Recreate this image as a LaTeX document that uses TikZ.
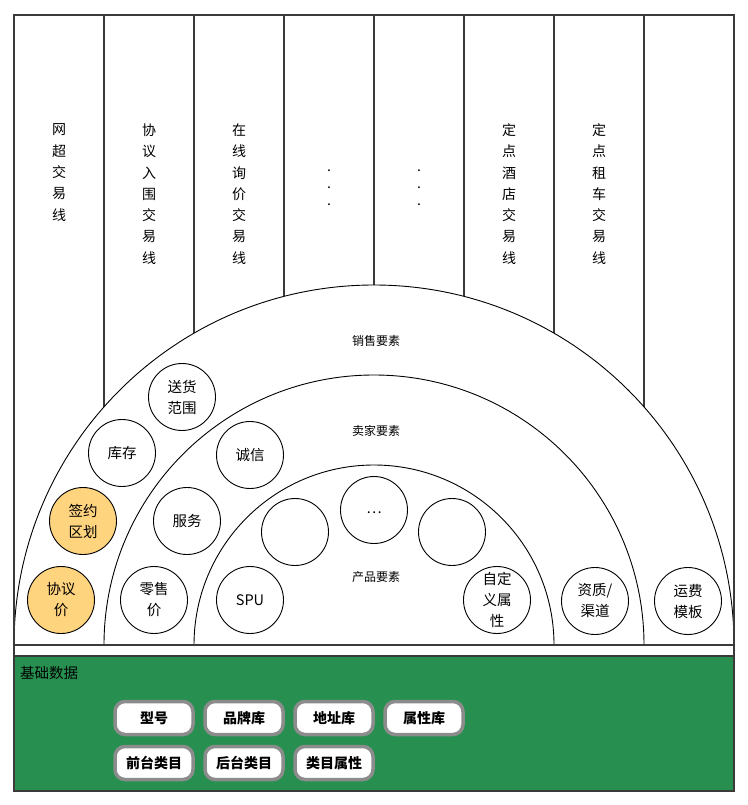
\documentclass[tikz,border=0pt]{standalone}
\usepackage{fontspec}
\setmainfont{Noto Sans CJK SC}
\definecolor{gfill}{HTML}{279050}
\definecolor{ofill}{HTML}{FFD47F}
\definecolor{framec}{HTML}{3A3A3A}
\definecolor{btnborder}{HTML}{8C8C8C}
\begin{document}
\begin{tikzpicture}[x=1pt,y=-1pt,
  elem/.style={circle, draw=black, line width=0.9pt, minimum size=67pt, inner sep=0pt, align=center, font=\fontsize{14.5}{21}\selectfont, fill=white},
  hot/.style={elem, fill=ofill},
  coltext/.style={align=center, font=\fontsize{14}{21.3}\selectfont, inner sep=0pt},
  dots/.style={align=center, font=\fontsize{14}{17}\selectfont, inner sep=0pt},
  ring/.style={font=\fontsize{12}{14}\selectfont, inner sep=0pt},
  btn/.style={draw=btnborder, line width=3.5pt, fill=white, rounded corners=10pt, minimum width=78pt, minimum height=33pt, inner sep=0pt, font=\fontsize{14}{16}\selectfont\bfseries},
  framel/.style={draw=framec, line width=1.2pt}]
\useasboundingbox (0,0) rectangle (747,805);
\fill[white] (0,0) rectangle (747,805);
% column separators
\foreach \x in {104,194,284,374,464,554,644} \draw[framel] (\x,15) -- (\x,645);
% rings
\filldraw[fill=white, draw=black, line width=0.9pt] (14,645) arc[start angle=180, end angle=360, radius=360] -- cycle;
\draw[black, line width=0.9pt] (104,645) arc[start angle=180, end angle=360, radius=270];
\draw[black, line width=0.9pt] (194,645) arc[start angle=180, end angle=360, radius=180];
% frame
\draw[framel] (14,15) rectangle (734,791);
\draw[framel] (14,645) -- (734,645);
\draw[framel, fill=gfill] (14,656) rectangle (734,791);
% column texts
\node[coltext] (c1) at (59,172.6) {网\\超\\交\\易\\线};
\node[coltext] (c2) at (149,194) {协\\议\\入\\围\\交\\易\\线};
\node[coltext] (c3) at (239,194) {在\\线\\询\\价\\交\\易\\线};
\node[dots] (c4) at (329,188) {.\\.\\.};
\node[dots] (c5) at (419,188) {.\\.\\.};
\node[coltext] (c6) at (509,194) {定\\点\\酒\\店\\交\\易\\线};
\node[coltext] (c7) at (599,194) {定\\点\\租\\车\\交\\易\\线};
% ring labels
\node[ring] (l1) at (376,341) {销售要素};
\node[ring] (l2) at (376,431) {卖家要素};
\node[ring] (l3) at (376,577) {产品要素};
% elements
\node[elem] (songhuo) at (182,397) {送货\\范围};
\node[elem] (kucun) at (122,453) {库存};
\node[hot] (qianyue) at (83,521) {签约\\区划};
\node[hot] (xieyi) at (61,600) {协议\\价};
\node[elem] (chengxin) at (250,455) {诚信};
\node[elem] (fuwu) at (187,521) {服务};
\node[elem] (lingshou) at (154,600) {零售\\价};
\node[elem] (spu) at (250,600) {SPU};
\node[elem] (empty1) at (295,532) {};
\node[elem] (more) at (374,510) {\raisebox{-3pt}[0pt][0pt]{…}};
\node[elem] (empty2) at (452,532) {};
\node[elem] (zidingyi) at (497,600) {自定\\义属\\性};
\node[elem] (zizhi) at (595,601) {资质/\\渠道};
\node[elem] (yunfei) at (688,601) {运费\\模板};
% base data
\node[anchor=west, inner sep=0pt, font=\fontsize{14.5}{16}\selectfont] (base) at (20,673) {基础数据};
\node[btn] (xinghao) at (154,718) {型号};
\node[btn] (pinpai) at (244,718) {品牌库};
\node[btn] (dizhi) at (334,718) {地址库};
\node[btn] (shuxing) at (424,718) {属性库};
\node[btn] (qiantai) at (154,763) {前台类目};
\node[btn] (houtai) at (244,763) {后台类目};
\node[btn] (leimu) at (334,763) {类目属性};
\end{tikzpicture}
\end{document}
